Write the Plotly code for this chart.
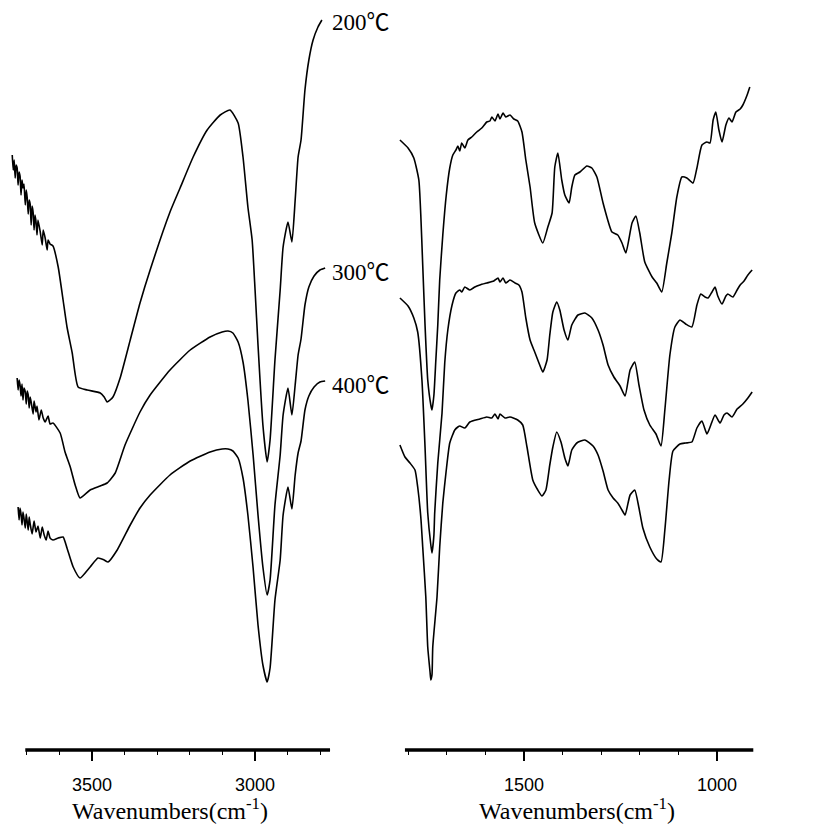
import plotly.graph_objects as go

# ---------------- Left panel (C-H / O-H region) ----------------
L200_wn = [3745, 3742, 3739, 3736, 3733, 3730, 3727, 3724, 3721, 3718, 3715, 3712, 3709, 3705, 3702, 3699,
           3696, 3693, 3690, 3687, 3684, 3681, 3678, 3675, 3672, 3669, 3666, 3659, 3653, 3650, 3644, 3638,
           3635, 3629, 3620, 3604, 3589, 3577, 3561, 3543, 3515, 3475, 3463, 3454, 3445, 3436, 3414, 3383,
           3353, 3322, 3261, 3230, 3190, 3147, 3107, 3077, 3052, 3037, 3022, 3009, 3000, 2991, 2976, 2963,
           2954, 2939, 2923, 2914, 2899, 2887, 2877, 2868, 2859, 2847, 2835, 2822, 2807, 2795]
L200_t = [59.5, 58.0, 59.0, 57.2, 58.5, 58.2, 56.5, 57.8, 57.4, 55.5, 57.0, 56.2, 56.6, 54.5, 56.0, 55.2,
          53.6, 55.0, 54.6, 52.5, 54.4, 53.8, 52.0, 53.5, 52.8, 51.5, 53.0, 51.8, 50.5, 52.0, 51.2, 50.0,
          51.0, 50.6, 50.4, 48.3, 45.0, 42.3, 39.7, 36.3, 36.0, 35.7, 35.3, 34.8, 35.0, 35.3, 37.2, 41.0,
          44.7, 48.0, 53.8, 56.2, 59.3, 62.0, 63.5, 64.0, 62.7, 59.3, 54.3, 51.0, 46.0, 40.5, 32.5, 28.8,
          31.0, 39.0, 46.0, 50.3, 52.8, 50.8, 55.0, 59.3, 61.0, 66.0, 69.0, 71.0, 72.3, 73.0]

L300_wn = [3730, 3727, 3724, 3721, 3718, 3715, 3712, 3709, 3705, 3702, 3699, 3696, 3693, 3690, 3687, 3681,
           3678, 3672, 3669, 3663, 3656, 3650, 3644, 3635, 3629, 3620, 3598, 3583, 3567, 3552, 3537, 3506,
           3475, 3454, 3429, 3399, 3353, 3322, 3261, 3199, 3138, 3101, 3083, 3068, 3052, 3037, 3022, 3006,
           2991, 2976, 2963, 2954, 2939, 2923, 2914, 2899, 2887, 2877, 2868, 2859, 2847, 2835, 2819, 2801,
           2785]
L300_t = [37.2, 36.0, 37.0, 36.5, 35.4, 36.6, 35.0, 36.2, 35.8, 34.6, 35.9, 35.5, 34.2, 35.3, 34.8, 33.6,
          34.9, 33.8, 34.4, 33.0, 34.0, 33.2, 32.8, 33.4, 32.6, 32.7, 31.7, 29.8, 28.3, 26.5, 25.2, 26.0,
          26.4, 26.7, 27.7, 30.5, 33.8, 35.5, 38.0, 40.0, 41.3, 41.8, 41.9, 41.7, 40.8, 38.8, 35.0, 29.5,
          23.5, 18.3, 15.5, 17.0, 24.5, 29.5, 33.5, 36.2, 33.5, 36.5, 39.5, 41.1, 44.5, 46.3, 47.4, 48.0,
          48.2]

L400_wn = [3727, 3724, 3721, 3718, 3715, 3712, 3709, 3705, 3702, 3699, 3696, 3693, 3690, 3684, 3678, 3672,
           3666, 3659, 3653, 3647, 3641, 3635, 3629, 3620, 3604, 3589, 3577, 3558, 3537, 3506, 3482, 3463,
           3451, 3423, 3383, 3353, 3322, 3261, 3199, 3138, 3101, 3083, 3068, 3052, 3037, 3022, 3006, 2991,
           2976, 2963, 2954, 2939, 2923, 2914, 2899, 2887, 2877, 2868, 2859, 2847, 2835, 2819, 2801, 2785]
L400_t = [24.3, 23.0, 24.2, 23.6, 22.5, 23.8, 23.2, 22.2, 23.6, 22.8, 22.0, 23.3, 22.6, 21.6, 22.9, 21.8,
          22.4, 21.2, 22.3, 21.5, 21.0, 21.9, 21.2, 21.0, 21.2, 21.3, 20.2, 18.3, 17.2, 18.3, 19.2, 19.0,
          18.8, 20.0, 22.5, 24.2, 25.5, 27.5, 28.9, 29.8, 30.1, 30.1, 29.9, 29.2, 27.2, 23.5, 18.2, 12.5,
          8.5, 6.8, 8.2, 15.0, 19.0, 23.5, 26.3, 24.1, 27.5, 29.7, 30.9, 34.0, 35.4, 36.3, 36.8, 36.9]

# ---------------- Right panel (fingerprint region) ----------------
R200_wn = [1821, 1800, 1785, 1772, 1767, 1762, 1756, 1749, 1741, 1738, 1733, 1728, 1723, 1718, 1710, 1701,
           1692, 1684, 1676, 1671, 1666, 1661, 1653, 1645, 1635, 1622, 1609, 1596, 1588, 1583, 1575, 1567,
           1562, 1554, 1547, 1536, 1526, 1516, 1505, 1495, 1484, 1472, 1451, 1438, 1427, 1420, 1412, 1402,
           1394, 1383, 1376, 1368, 1355, 1337, 1324, 1311, 1295, 1272, 1257, 1246, 1236, 1220, 1210, 1200,
           1187, 1168, 1156, 1143, 1130, 1117, 1104, 1091, 1078, 1062, 1052, 1039, 1026, 1018, 1010, 1003,
           995, 987, 977, 969, 961, 951, 940, 933, 922, 915]
R200_t = [61.0, 60.2, 59.2, 57.0, 53.5, 48.5, 42.5, 37.0, 34.5, 34.0, 35.5, 39.0, 42.5, 47.0, 51.5, 55.5,
          58.2, 59.5, 60.0, 60.4, 59.9, 60.7, 60.2, 61.0, 61.3, 61.8, 62.2, 62.8, 62.9, 63.3, 62.9, 63.6,
          63.1, 63.7, 63.3, 63.5, 63.1, 62.9, 61.8, 59.0, 56.3, 52.7, 50.7, 52.3, 53.7, 58.3, 59.7, 57.0,
          55.5, 54.7, 56.3, 57.5, 57.8, 58.4, 58.2, 57.3, 54.7, 51.8, 51.5, 50.7, 49.7, 52.7, 53.4, 51.7,
          48.8, 47.3, 46.7, 45.8, 48.7, 51.7, 55.3, 57.3, 57.2, 56.7, 58.2, 60.5, 60.8, 60.7, 63.0, 63.8,
          62.0, 60.8, 62.5, 63.2, 62.8, 63.8, 64.1, 64.5, 65.5, 66.3]

R300_wn = [1821, 1800, 1785, 1775, 1764, 1756, 1749, 1741, 1738, 1733, 1731, 1723, 1712, 1705, 1697, 1686,
           1676, 1666, 1661, 1653, 1640, 1627, 1614, 1596, 1578, 1567, 1562, 1554, 1547, 1536, 1523, 1513,
           1505, 1495, 1484, 1472, 1459, 1451, 1440, 1433, 1425, 1415, 1407, 1396, 1386, 1376, 1360, 1342,
           1324, 1308, 1295, 1282, 1267, 1251, 1238, 1225, 1213, 1202, 1189, 1174, 1158, 1145, 1135, 1122,
           1109, 1096, 1081, 1065, 1052, 1042, 1031, 1023, 1013, 1005, 998, 987, 977, 972, 959, 948, 940,
           930, 920, 909]
R300_t = [45.2, 44.4, 43.2, 41.8, 37.0, 30.3, 23.7, 20.5, 19.7, 21.5, 23.7, 28.7, 33.7, 38.7, 42.0, 44.5,
          45.7, 46.0, 45.8, 46.3, 46.0, 46.3, 46.5, 46.7, 46.9, 47.2, 46.8, 47.2, 46.7, 47.0, 46.7, 46.5,
          45.8, 43.2, 41.0, 39.8, 38.5, 37.8, 39.0, 41.5, 43.8, 44.8, 44.0, 42.0, 41.0, 42.5, 43.5, 43.7,
          43.2, 42.0, 40.5, 38.5, 37.3, 36.4, 35.4, 38.0, 38.8, 36.5, 34.0, 32.5, 31.6, 30.4, 34.0, 39.5,
          42.3, 43.0, 42.6, 42.3, 44.5, 45.6, 45.3, 45.2, 45.8, 46.3, 45.4, 44.6, 45.4, 45.6, 45.3, 46.0,
          46.5, 46.9, 47.5, 48.0]

R400_wn = [1821, 1808, 1795, 1782, 1775, 1767, 1762, 1754, 1749, 1743, 1741, 1738, 1736, 1725, 1718, 1710,
           1701, 1692, 1679, 1671, 1666, 1653, 1640, 1614, 1596, 1583, 1575, 1567, 1562, 1549, 1536, 1516,
           1503, 1492, 1477, 1464, 1453, 1443, 1433, 1425, 1415, 1404, 1394, 1386, 1376, 1363, 1342, 1321,
           1308, 1295, 1282, 1269, 1257, 1246, 1238, 1225, 1213, 1202, 1192, 1174, 1156, 1145, 1135, 1124,
           1114, 1096, 1081, 1065, 1052, 1039, 1026, 1016, 1005, 992, 982, 974, 961, 948, 933, 920, 909]
R400_t = [30.5, 29.3, 28.7, 28.0, 26.3, 23.3, 20.3, 15.3, 10.3, 7.8, 7.0, 7.5, 10.3, 15.3, 20.3, 24.7,
          28.0, 30.7, 32.0, 32.3, 32.4, 32.2, 32.8, 33.1, 33.3, 33.2, 33.6, 33.1, 33.6, 33.2, 33.3, 33.0,
          32.5, 30.3, 27.0, 26.0, 25.4, 26.0, 28.5, 30.3, 31.8, 30.8, 29.2, 28.4, 30.0, 30.7, 31.0, 30.4,
          29.5, 27.9, 26.0, 25.2, 24.7, 24.0, 23.5, 25.5, 26.0, 24.2, 22.2, 20.3, 19.1, 18.8, 22.0, 27.0,
          29.9, 30.6, 30.7, 30.8, 32.2, 32.9, 31.6, 32.5, 33.5, 32.7, 33.5, 33.7, 33.3, 34.1, 34.6, 35.2,
          35.8]

TEMPS = ["200℃", "300℃", "400℃"]

fig = go.Figure()
line = dict(color="black", width=1.6, shape="spline", smoothing=0.5)
for wn, t in [(L200_wn, L200_t), (L300_wn, L300_t), (L400_wn, L400_t)]:
    fig.add_trace(go.Scatter(x=wn, y=t, xaxis="x", yaxis="y", mode="lines", line=line,
                             showlegend=False, hoverinfo="skip"))
for wn, t in [(R200_wn, R200_t), (R300_wn, R300_t), (R400_wn, R400_t)]:
    fig.add_trace(go.Scatter(x=wn, y=t, xaxis="x2", yaxis="y", mode="lines", line=line,
                             showlegend=False, hoverinfo="skip"))

tickfont = dict(family="Liberation Sans, Arial, sans-serif", size=18, color="black")
titlefont = dict(family="Liberation Serif, Times New Roman, serif", size=24, color="black")
labfont = dict(family="Liberation Serif, Noto Sans CJK SC, serif", size=23, color="black")

common = dict(showgrid=False, zeroline=False, showline=False, ticks="outside", ticklen=10,
              tickwidth=1.5, tickcolor="black", tickfont=tickfont, ticklabelstandoff=8,
              anchor="y", fixedrange=True)

W, H = 822, 816  # the page body adds an 8px margin, so the figure fills the 830x824 window
fig.update_layout(
    width=W, height=H,
    margin=dict(l=0, r=0, t=0, b=74),
    paper_bgcolor="white", plot_bgcolor="white",
    xaxis=dict(domain=[0, 324 / W], range=[3758, 2764],
               tickmode="array", tickvals=[3500, 3000],
               minor=dict(tickmode="array", tickvals=[3700, 3600, 3400, 3300, 3200, 3100, 2900, 2800],
                          ticks="outside", ticklen=4, tickwidth=1, tickcolor="black"),
               title=dict(text="Wavenumbers(cm<sup>-1</sup>)", font=titlefont, standoff=3),
               **common),
    xaxis2=dict(domain=[390 / W, 748 / W], range=[1826, 899],
                tickmode="array", tickvals=[1500, 1000],
                minor=dict(tickmode="array", tickvals=[1800, 1700, 1600, 1400, 1300, 1200, 1100],
                           ticks="outside", ticklen=4, tickwidth=1, tickcolor="black"),
                title=dict(text="Wavenumbers(cm<sup>-1</sup>)", font=titlefont, standoff=3),
                **common),
    yaxis=dict(domain=[0, 1], range=[0, 74.2], visible=False, fixedrange=True),
    shapes=[
        dict(type="line", xref="x", yref="paper", x0=3705, x1=2770, y0=0, y1=0,
             line=dict(color="black", width=3.5)),
        dict(type="line", xref="x2", yref="paper", x0=1808, x1=906, y0=0, y1=0,
             line=dict(color="black", width=3.5)),
    ],
)

left_lab = [(2770, 72.8), (2770, 47.8), (2770, 36.5)]
right_lab = [(897, 66.0), (887, 47.0), (874, 36.0)]
for txt, (lx, ly) in zip(TEMPS, left_lab):
    fig.add_annotation(x=lx, y=ly, xref="x", yref="y", text=txt, showarrow=False,
                       xanchor="left", yanchor="middle", font=labfont)
for txt, (rx, ry) in zip(TEMPS, right_lab):
    fig.add_annotation(x=rx, y=ry, xref="x2", yref="y", text=txt, showarrow=False,
                       xanchor="left", yanchor="middle", font=labfont)

fig.write_html("out.html")
